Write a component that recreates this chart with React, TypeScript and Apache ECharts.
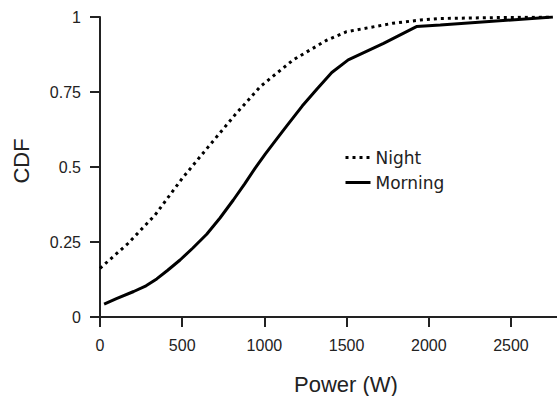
import React, { useEffect, useRef } from "react";
import * as echarts from "echarts";

const nightX = [0, 170, 335, 500, 660, 820, 975, 1175, 1380, 1500, 1780, 1950, 2070, 2400, 2755];
const nightY = [0.162, 0.245, 0.34, 0.462, 0.568, 0.673, 0.768, 0.857, 0.923, 0.951, 0.979, 0.99, 0.995, 0.998, 1.0];

const morningX = [25, 100, 205, 280, 345, 410, 487, 565, 649, 730, 811, 880, 945, 1005, 1065, 1135, 1230, 1320, 1410, 1510, 1725, 1925, 2070, 2755];
const morningY = [0.043, 0.061, 0.085, 0.104, 0.127, 0.155, 0.19, 0.23, 0.276, 0.33, 0.39, 0.444, 0.497, 0.543, 0.586, 0.636, 0.703, 0.76, 0.815, 0.857, 0.912, 0.968, 0.973, 1.0];

const xTicks = [0, 500, 1000, 1500, 2000, 2500];
const yTicks = [0, 0.25, 0.5, 0.75, 1];

const seriesNames = ["Night", "Morning"];

export default function App() {
  const ref = useRef<HTMLDivElement>(null);
  useEffect(() => {
    if (!ref.current) return;
    const chart = echarts.init(ref.current, undefined, { renderer: "svg" });
    const axisColor = "#222";
    const labelFont = "Liberation Sans";
    chart.setOption({
      animation: false,
      backgroundColor: "#fff",
      grid: { left: 100, right: 0, top: 17, bottom: 79 },
      xAxis: {
        type: "value",
        min: 0,
        max: 2780,
        interval: 500,
        splitLine: { show: false },
        axisLine: { show: true, lineStyle: { color: axisColor, width: 2 } },
        axisTick: { show: true, length: 10, inside: false, lineStyle: { color: axisColor, width: 2 }, customValues: xTicks },
        axisLabel: {
          margin: 20,
          fontSize: 16,
          fontFamily: labelFont,
          color: axisColor,
          customValues: xTicks,
          formatter: (v: number) => String(v),
        },
      },
      yAxis: {
        type: "value",
        min: 0,
        max: 1,
        interval: 0.25,
        splitLine: { show: false },
        axisLine: { show: true, lineStyle: { color: axisColor, width: 2 } },
        axisTick: { show: true, length: 10, inside: false, lineStyle: { color: axisColor, width: 2 }, customValues: yTicks },
        axisLabel: {
          margin: 19,
          fontSize: 16,
          fontFamily: labelFont,
          color: axisColor,
          customValues: yTicks,
          formatter: (v: number) => String(v),
        },
      },
      legend: {
        data: seriesNames,
        orient: "vertical",
        left: 339,
        top: 144,
        itemWidth: 25,
        itemHeight: 17,
        itemGap: 8,
        itemStyle: { opacity: 0 },
        lineStyle: { width: 3 },
        textStyle: { fontSize: 17, fontFamily: "DejaVu Sans", color: axisColor },
      },
      graphic: [
        {
          type: "text",
          x: 346,
          y: 384,
          style: { text: "Power (W)", fontSize: 22, fontFamily: labelFont, fill: axisColor, align: "center", verticalAlign: "middle" },
        },
        {
          type: "text",
          x: 21,
          y: 161,
          rotation: Math.PI / 2,
          style: { text: "CDF", fontSize: 22, fontFamily: labelFont, fill: axisColor, align: "center", verticalAlign: "middle" },
        },
      ],
      series: [
        {
          name: seriesNames[0],
          type: "line",
          data: nightX.map((x, i) => [x, nightY[i]]),
          symbol: "none",
          showSymbol: false,
          lineStyle: { color: "#000", width: 3, type: [3, 4], cap: "butt" },
          itemStyle: { color: "#000" },
        },
        {
          name: seriesNames[1],
          type: "line",
          data: morningX.map((x, i) => [x, morningY[i]]),
          symbol: "none",
          showSymbol: false,
          lineStyle: { color: "#000", width: 3, type: "solid" },
          itemStyle: { color: "#000" },
        },
      ],
    });
    return () => chart.dispose();
  }, []);
  return <div ref={ref} style={{ position: "absolute", left: 0, top: 0, width: 557, height: 396 }} />;
}
